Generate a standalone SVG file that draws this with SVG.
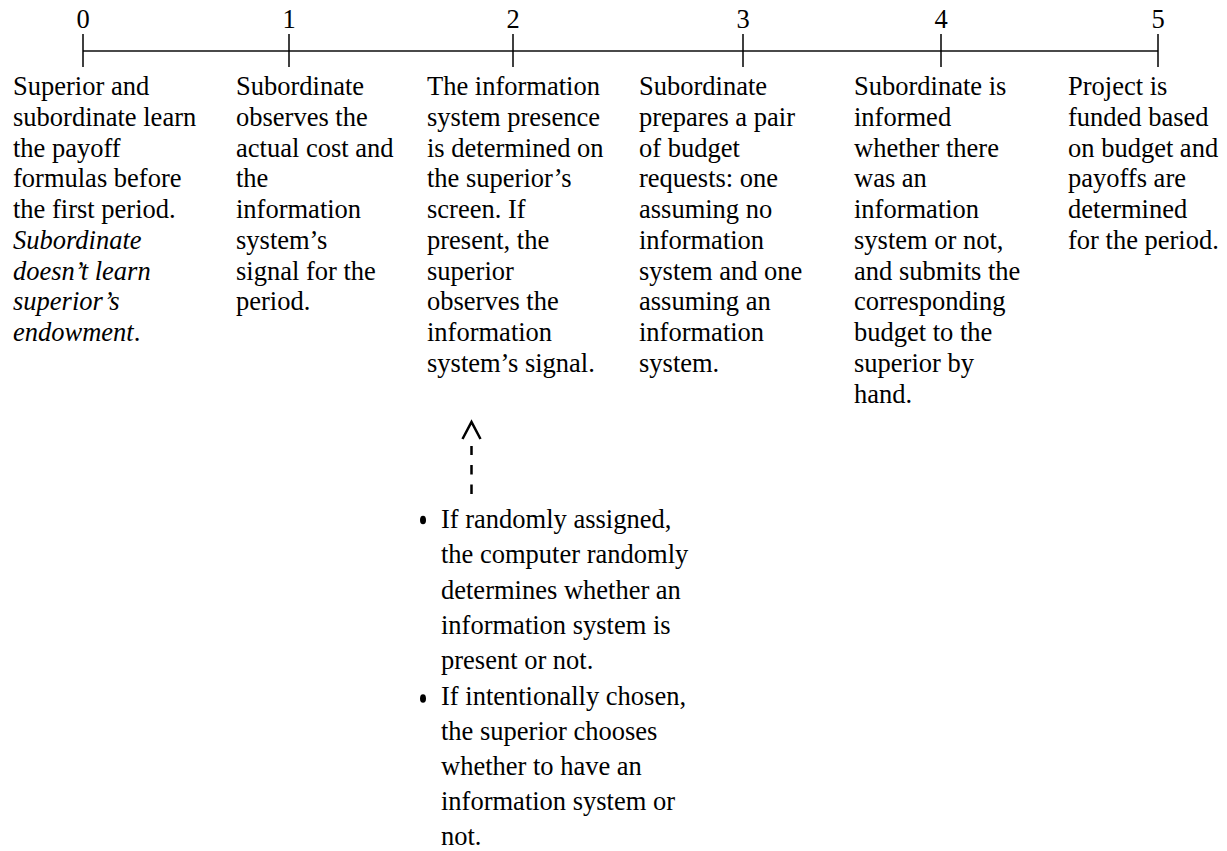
<svg xmlns="http://www.w3.org/2000/svg" width="1227" height="851" viewBox="0 0 1227 851">
<style>
text{font-family:"Liberation Serif","Times New Roman",serif;font-size:26.5px;fill:#000}
.num{text-anchor:middle}
.it{font-style:italic}
.tick{stroke:#000;stroke-width:1.5}
.axis{stroke:#4a4a4a;stroke-width:2}
.conn{fill:none;stroke:#000;stroke-width:2.5}
</style>
<g id="timeline">
<line class="axis" x1="83" y1="51" x2="1158" y2="51"/>
<line class="tick" x1="83" y1="34" x2="83" y2="67"/>
<line class="tick" x1="289" y1="34" x2="289" y2="67"/>
<line class="tick" x1="513" y1="34" x2="513" y2="67"/>
<line class="tick" x1="743" y1="34" x2="743" y2="67"/>
<line class="tick" x1="941" y1="34" x2="941" y2="67"/>
<line class="tick" x1="1158" y1="34" x2="1158" y2="67"/>
<text class="num" x="83" y="28">0</text>
<text class="num" x="289" y="28">1</text>
<text class="num" x="513" y="28">2</text>
<text class="num" x="743" y="28">3</text>
<text class="num" x="941" y="28">4</text>
<text class="num" x="1158" y="28">5</text>
</g>
<g id="step0">
<text x="13" y="95">Superior and</text>
<text x="13" y="125.75">subordinate learn</text>
<text x="13" y="156.5">the payoff</text>
<text x="13" y="187.25">formulas before</text>
<text x="13" y="218">the first period.</text>
<text x="13" y="248.75" class="it">Subordinate</text>
<text x="13" y="279.5" class="it">doesn’t learn</text>
<text x="13" y="310.25" class="it">superior’s</text>
<text x="13" y="341"><tspan class="it">endowment</tspan>.</text>
</g>
<g id="step1">
<text x="236" y="95">Subordinate</text>
<text x="236" y="125.75">observes the</text>
<text x="236" y="156.5">actual cost and</text>
<text x="236" y="187.25">the</text>
<text x="236" y="218">information</text>
<text x="236" y="248.75">system’s</text>
<text x="236" y="279.5">signal for the</text>
<text x="236" y="310.25">period.</text>
</g>
<g id="step2">
<text x="427" y="95">The information</text>
<text x="427" y="125.75">system presence</text>
<text x="427" y="156.5">is determined on</text>
<text x="427" y="187.25">the superior’s</text>
<text x="427" y="218">screen. If</text>
<text x="427" y="248.75">present, the</text>
<text x="427" y="279.5">superior</text>
<text x="427" y="310.25">observes the</text>
<text x="427" y="341">information</text>
<text x="427" y="371.75">system’s signal.</text>
</g>
<g id="step3">
<text x="639" y="95">Subordinate</text>
<text x="639" y="125.75">prepares a pair</text>
<text x="639" y="156.5">of budget</text>
<text x="639" y="187.25">requests: one</text>
<text x="639" y="218">assuming no</text>
<text x="639" y="248.75">information</text>
<text x="639" y="279.5">system and one</text>
<text x="639" y="310.25">assuming an</text>
<text x="639" y="341">information</text>
<text x="639" y="371.75">system.</text>
</g>
<g id="step4">
<text x="854" y="95">Subordinate is</text>
<text x="854" y="125.75">informed</text>
<text x="854" y="156.5">whether there</text>
<text x="854" y="187.25">was an</text>
<text x="854" y="218">information</text>
<text x="854" y="248.75">system or not,</text>
<text x="854" y="279.5">and submits the</text>
<text x="854" y="310.25">corresponding</text>
<text x="854" y="341">budget to the</text>
<text x="854" y="371.75">superior by</text>
<text x="854" y="402.5">hand.</text>
</g>
<g id="step5">
<text x="1068" y="95">Project is</text>
<text x="1068" y="125.75">funded based</text>
<text x="1068" y="156.5">on budget and</text>
<text x="1068" y="187.25">payoffs are</text>
<text x="1068" y="218">determined</text>
<text x="1068" y="248.75">for the period.</text>
</g>
<g id="connectors">
<line class="conn" x1="471.5" y1="494" x2="471.5" y2="446" stroke-dasharray="9.5 10"/>
<path class="conn" d="M462.5,439 L471.5,422 L480.5,439" stroke-width="2.2"/>
</g>
<g id="notes">
<ellipse cx="423" cy="520" rx="3" ry="4.3" fill="#000"/>
<text x="441" y="528">If randomly assigned,</text>
<text x="441" y="563.3">the computer randomly</text>
<text x="441" y="598.6">determines whether an</text>
<text x="441" y="633.9">information system is</text>
<text x="441" y="669.2">present or not.</text>
<ellipse cx="423" cy="698.5" rx="3" ry="4.3" fill="#000"/>
<text x="441" y="704.5">If intentionally chosen,</text>
<text x="441" y="739.8">the superior chooses</text>
<text x="441" y="775.1">whether to have an</text>
<text x="441" y="810.4">information system or</text>
<text x="441" y="845">not.</text>
</g>
</svg>
